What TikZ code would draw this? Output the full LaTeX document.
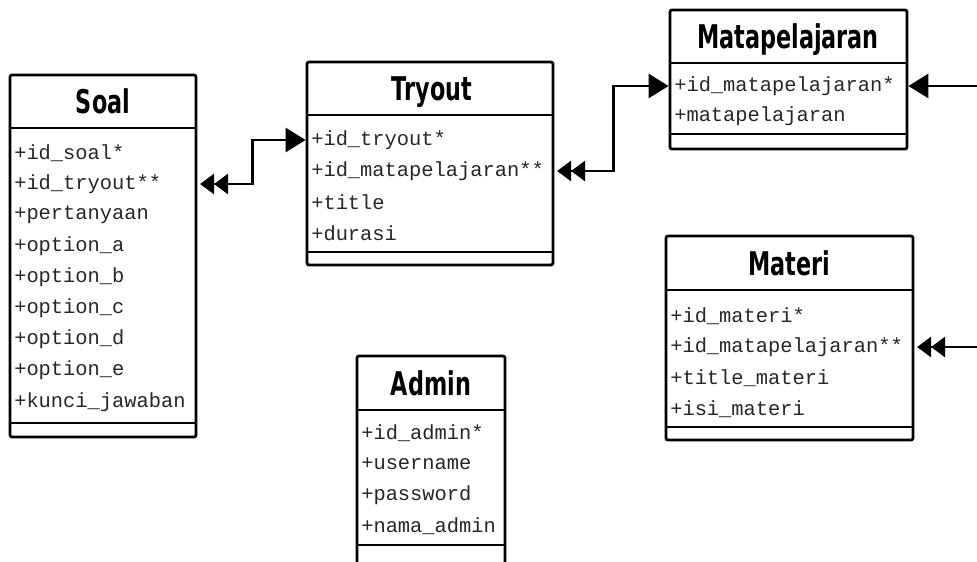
\documentclass[tikz,border=0pt]{standalone}
\usepackage{fontspec}
\setmonofont{Liberation Mono}
\newfontfamily\titlefont{DejaVu Sans Condensed}
\usetikzlibrary{arrows.meta,fit}
\newcommand{\ttlscale}[1]{\scalebox{0.76}[1]{#1}}
\tikzset{
  box/.style={draw, line width=2.1pt, rounded corners=1.5pt, inner sep=0pt},
  sepline/.style={line width=2.1pt},
  ttl/.style={font=\titlefont\bfseries\fontsize{24.5}{26}\selectfont, inner sep=0pt, anchor=base},
  att/.style={font=\ttfamily\fontsize{15.3}{16}\selectfont, anchor=west, inner sep=0pt, text=black!85},
  conn/.style={line width=2.1pt},
  tipA/.tip={Triangle[length=10.5pt,width=15pt]},
  tipB/.tip={Triangle[length=15pt,width=18pt]},
}
\begin{document}
\begin{tikzpicture}[x=0.75pt,y=-0.75pt]
\useasboundingbox (0,0) rectangle (977,561);
% Soal
\node[box, fit={(10,75) (196,437)}] (soal) {};
\draw[sepline] (soal.west |- 0,128) -- (soal.east |- 0,128);
\draw[sepline] (soal.west |- 0,423) -- (soal.east |- 0,423);
\node[ttl] (soal-t) at (103,113.5) {\ttlscale{Soal}};
\node[att] (soal-a1) at (14,153) {+id\_soal*};
\node[att] (soal-a2) at (14,184) {+id\_tryout**};
\node[att] (soal-a3) at (14,215) {+pertanyaan};
\node[att] (soal-a4) at (14,246) {+option\_a};
\node[att] (soal-a5) at (14,277) {+option\_b};
\node[att] (soal-a6) at (14,308) {+option\_c};
\node[att] (soal-a7) at (14,339) {+option\_d};
\node[att] (soal-a8) at (14,370) {+option\_e};
\node[att] (soal-a9) at (14,402) {+kunci\_jawaban};
% Tryout
\node[box, fit={(307,62) (553,265)}] (tryout) {};
\draw[sepline] (tryout.west |- 0,115) -- (tryout.east |- 0,115);
\draw[sepline] (tryout.west |- 0,252) -- (tryout.east |- 0,252);
\node[ttl] (tryout-t) at (432,100.5) {\ttlscale{Tryout}};
\node[att] (tryout-a1) at (311,140) {+id\_tryout*};
\node[att] (tryout-a2) at (311,171) {+id\_matapelajaran**};
\node[att] (tryout-a3) at (311,202) {+title};
\node[att] (tryout-a4) at (311,233) {+durasi};
% Matapelajaran
\node[box, fit={(670,10) (907,149)}] (mp) {};
\draw[sepline] (mp.west |- 0,63) -- (mp.east |- 0,63);
\draw[sepline] (mp.west |- 0,134) -- (mp.east |- 0,134);
\node[ttl] (mp-t) at (788,48.5) {\ttlscale{Matapelajaran}};
\node[att] (mp-a1) at (674,86) {+id\_matapelajaran*};
\node[att] (mp-a2) at (674,116) {+matapelajaran};
% Materi
\node[box, fit={(666,236) (913,440)}] (materi) {};
\draw[sepline] (materi.west |- 0,290) -- (materi.east |- 0,290);
\draw[sepline] (materi.west |- 0,427) -- (materi.east |- 0,427);
\node[ttl] (materi-t) at (789,275) {\ttlscale{Materi}};
\node[att] (materi-a1) at (670,316) {+id\_materi*};
\node[att] (materi-a2) at (670,347) {+id\_matapelajaran**};
\node[att] (materi-a3) at (670,378) {+title\_materi};
\node[att] (materi-a4) at (670,409) {+isi\_materi};
% Admin
\node[box, fit={(357,356) (505,564)}] (admin) {};
\draw[sepline] (admin.west |- 0,410) -- (admin.east |- 0,410);
\draw[sepline] (admin.west |- 0,545) -- (admin.east |- 0,545);
\node[ttl] (admin-t) at (431,395) {\ttlscale{Admin}};
\node[att] (admin-a1) at (361,433) {+id\_admin*};
\node[att] (admin-a2) at (361,464) {+username};
\node[att] (admin-a3) at (361,495) {+password};
\node[att] (admin-a4) at (361,526) {+nama\_admin};
% connectors
\coordinate (edge1) at (980,86);
\coordinate (edge2) at (980,347);
\draw[conn, {tipA[]tipA[]}-{tipB[]}, shorten <=2pt]
  (soal.east |- soal-a2) -- ++(55,0) |- (tryout.west |- tryout-a1);
\draw[conn, {tipA[]tipA[]}-{tipB[]}, shorten <=2pt]
  (tryout.east |- tryout-a2) -- ++(59,0) |- (mp.west |- mp-a1);
\draw[conn, -{tipB[]}] (edge1) -- (mp.east |- mp-a1);
\draw[conn, -{tipA[]tipA[]}, shorten >=2pt] (edge2) -- (materi.east |- materi-a2);
\end{tikzpicture}
\end{document}
